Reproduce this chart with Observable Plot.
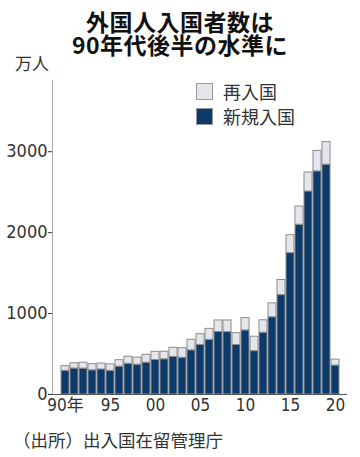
<!DOCTYPE html>
<html><head><meta charset="utf-8">
<script src="https://cdn.jsdelivr.net/npm/d3@7"></script>
<script src="https://cdn.jsdelivr.net/npm/@observablehq/plot@0.6"></script>
<style>
body{margin:0;background:#fff;width:360px;height:457px;position:relative;overflow:hidden;font-family:"Noto Sans CJK JP",sans-serif;color:#222}
#title{position:absolute;top:10px;left:0;width:360px;text-align:center;font-weight:700;font-size:23px;line-height:23px;color:#111;letter-spacing:0.5px}
#unit{position:absolute;left:15px;top:53px;font-size:17px;line-height:20px;color:#333}
#chart{position:absolute;left:0;top:60px}
.lg{position:absolute;left:196px;font-size:18px;line-height:20px;color:#333}
.lg span.box{position:absolute;left:0;top:1px;width:17px;height:17px;border:1px solid #999;box-sizing:border-box}
.lg span.t{position:absolute;left:27px;top:-1px;white-space:nowrap}
#caption{position:absolute;left:13px;top:429px;font-size:17.5px;line-height:22px;color:#333}
</style></head>
<body>
<div id="title">外国人入国者数は<br>90年代後半の水準に</div>
<div id="unit">万人</div>
<div id="chart"></div>
<div id="legend"></div>
<div id="caption">（出所）出入国在留管理庁</div>
<script>
const years = d3.range(1990, 2021);
const newEntries = [293,321,320,299,310,293,345,380,369,393,426,435,465,454,546,612,676,772,771,612,792,536,764,955,1228,1747,2098,2509,2757,2840,358];
const reEntries  = [57,65,73,76,73,80,79,87,87,97,101,94,112,119,130,133,135,143,144,146,152,178,153,171,187,222,224,234,253,279,73];
const seriesNames = ["再入国","新規入国"];
const seriesColors = ["#e4e6eb","#0c3a6b"];
const xTicks = [1990,1995,2000,2005,2010,2015,2020];
const xTickLabels = ["90年","95","00","05","10","15","20"];
const yTicks = [0,1000,2000,3000];

const data = [];
years.forEach((y,i)=>{
  data.push({year:y, series:"新規入国", value:newEntries[i]});
  data.push({year:y, series:"再入国", value:reEntries[i]});
});

const numFont = '"Liberation Sans Narrow","DejaVu Sans Condensed","Noto Sans CJK JP",sans-serif';
const chart = Plot.plot({
  width:360, height:370,
  marginTop:20, marginBottom:36, marginLeft:52, marginRight:13,
  style:{fontFamily:numFont, fontSize:"17px", color:"#333", background:"transparent"},
  x:{type:"band", domain:years, padding:0.15},
  y:{domain:[0,3880]},
  color:{domain:seriesNames, range:seriesColors},
  marks:[
    Plot.frame({anchor:"left", stroke:"#aaa"}),
    Plot.barY(data, Plot.stackY({order:["新規入国","再入国"]}, {x:"year", y:"value", fill:"series", stroke:"#8c8c8c", strokeWidth:1})),
    Plot.ruleY([0], {stroke:"#555"}),
    Plot.axisY({ticks:yTicks, tickFormat:d=>String(d), tickSize:4, tickPadding:1, label:null, fontSize:18, stroke:"#333"}),
    Plot.axisX({ticks:xTicks, tickFormat:d=>xTickLabels[xTicks.indexOf(d)], tickSize:0, tickPadding:4, label:null, fontSize:17})
  ]
});
document.getElementById("chart").appendChild(chart);

const lg = document.getElementById("legend");
seriesNames.forEach((s,i)=>{
  const d = document.createElement("div");
  d.className="lg"; d.style.top=(82+i*25)+"px";
  d.innerHTML=`<span class="box" style="background:${seriesColors[i]}"></span><span class="t">${s}</span>`;
  lg.appendChild(d);
});
</script>
</body></html>
